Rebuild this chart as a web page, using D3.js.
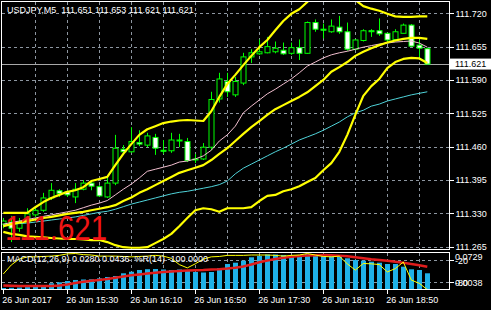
<!DOCTYPE html>
<meta charset="utf-8">
<style>
body { margin: 0; background: #000; }
svg { display: block; font-family: "Liberation Sans", Arial, sans-serif; }
.grid line { stroke: #8d96a0; stroke-dasharray: 3,3; shape-rendering: crispEdges; }
.frame { fill: none; stroke: #fff; stroke-width: 1; shape-rendering: crispEdges; }
.axis path { display: none; }
.axis line { stroke: #fff; shape-rendering: crispEdges; }
.axis text { fill: #fff; font-size: 9px; font-family: "Liberation Sans", Arial, sans-serif; }
.lbl { fill: #fff; font-size: 9px; white-space: pre; }
</style>
<body>
<script src="https://d3js.org/d3.v7.min.js"></script>
<script>

// USDJPY M5 candles, 14:50 .. 19:15
var open  = [111.309,111.313,111.301,111.313,111.327,111.336,111.360,111.374,111.372,111.362,111.377,111.389,111.382,111.362,111.389,111.455,111.450,111.468,111.463,111.478,111.453,111.452,111.473,111.470,111.436,111.436,111.459,111.553,111.587,111.561,111.584,111.635,111.641,111.643,111.645,111.648,111.642,111.653,111.642,111.702,111.689,111.684,111.693,111.684,111.650,111.667,111.686,111.686,111.681,111.669,111.681,111.697,111.658,111.651];
var high  = [111.321,111.325,111.321,111.340,111.342,111.370,111.389,111.377,111.375,111.389,111.395,111.391,111.385,111.399,111.483,111.463,111.498,111.492,111.487,111.485,111.473,111.487,111.485,111.477,111.446,111.467,111.567,111.604,111.604,111.596,111.643,111.650,111.669,111.674,111.665,111.663,111.663,111.669,111.704,111.708,111.700,111.708,111.715,111.702,111.669,111.689,111.689,111.710,111.682,111.689,111.700,111.699,111.668,111.653];
var low   = [111.301,111.274,111.294,111.307,111.323,111.333,111.356,111.362,111.362,111.350,111.375,111.375,111.362,111.360,111.385,111.448,111.448,111.461,111.459,111.444,111.446,111.448,111.459,111.430,111.428,111.434,111.453,111.546,111.557,111.557,111.580,111.623,111.639,111.642,111.642,111.639,111.639,111.629,111.641,111.684,111.671,111.682,111.680,111.647,111.648,111.665,111.674,111.676,111.662,111.665,111.681,111.655,111.635,111.621];
var close = [111.315,111.301,111.313,111.329,111.336,111.360,111.375,111.369,111.366,111.377,111.389,111.383,111.364,111.389,111.457,111.450,111.470,111.465,111.481,111.457,111.452,111.473,111.472,111.433,111.435,111.459,111.552,111.592,111.567,111.587,111.635,111.643,111.645,111.655,111.652,111.641,111.653,111.642,111.702,111.689,111.688,111.695,111.684,111.650,111.668,111.686,111.685,111.680,111.668,111.684,111.697,111.656,111.652,111.621];

// indicator lines on the price chart
var bbUpper  = [111.331,111.331,111.331,111.331,111.342,111.352,111.360,111.366,111.372,111.375,111.381,111.393,111.397,111.401,111.424,111.446,111.465,111.483,111.494,111.500,111.506,111.509,111.511,111.512,111.511,111.510,111.529,111.557,111.582,111.600,111.619,111.637,111.654,111.668,111.687,111.705,111.719,111.728,111.742,111.762,111.773,111.777,111.773,111.762,111.746,111.734,111.729,111.725,111.719,111.714,111.713,111.713,111.714,111.714];
var bbMiddle = [111.305,111.309,111.312,111.315,111.318,111.321,111.323,111.326,111.329,111.331,111.333,111.336,111.339,111.342,111.346,111.354,111.361,111.370,111.377,111.385,111.393,111.401,111.409,111.414,111.419,111.424,111.434,111.446,111.457,111.471,111.485,111.498,111.510,111.522,111.533,111.541,111.549,111.557,111.566,111.578,111.590,111.606,111.615,111.625,111.637,111.645,111.652,111.658,111.663,111.667,111.670,111.672,111.672,111.670];
var bbLower  = [111.294,111.290,111.288,111.285,111.284,111.283,111.282,111.281,111.280,111.280,111.279,111.278,111.278,111.274,111.268,111.264,111.263,111.263,111.264,111.272,111.280,111.290,111.305,111.321,111.336,111.340,111.338,111.333,111.340,111.340,111.340,111.342,111.354,111.364,111.366,111.373,111.377,111.383,111.391,111.399,111.414,111.428,111.450,111.483,111.522,111.559,111.578,111.592,111.613,111.625,111.631,111.633,111.632,111.623];
var maPink   = [111.309,111.312,111.315,111.318,111.321,111.324,111.327,111.330,111.333,111.336,111.341,111.346,111.350,111.355,111.366,111.377,111.387,111.399,111.412,111.416,111.420,111.424,111.430,111.432,111.436,111.442,111.453,111.471,111.483,111.500,111.526,111.539,111.551,111.563,111.572,111.582,111.592,111.604,111.617,111.625,111.633,111.639,111.643,111.646,111.650,111.654,111.657,111.660,111.662,111.664,111.665,111.666,111.662,111.654];
var maCyan   = [111.307,111.309,111.310,111.311,111.313,111.315,111.317,111.319,111.321,111.323,111.326,111.329,111.332,111.334,111.338,111.343,111.348,111.352,111.356,111.360,111.364,111.368,111.371,111.373,111.376,111.379,111.382,111.386,111.393,111.407,111.418,111.426,111.434,111.442,111.450,111.457,111.465,111.473,111.479,111.485,111.492,111.500,111.508,111.518,111.526,111.531,111.539,111.543,111.549,111.553,111.557,111.561,111.564,111.567];

// sub window: MACD(12,26,9) and %R(14)
var macdMain   = [0.0038,0.0042,0.0048,0.0056,0.0066,0.0099,0.0134,0.0154,0.0180,0.0201,0.0211,0.0215,0.0235,0.0262,0.0282,0.0337,0.0369,0.0404,0.0420,0.0424,0.0414,0.0404,0.0414,0.0404,0.0363,0.0353,0.0363,0.0438,0.0526,0.0552,0.0593,0.0662,0.0688,0.0719,0.0719,0.0709,0.0688,0.0709,0.0729,0.0719,0.0709,0.0709,0.0703,0.0642,0.0607,0.0593,0.0573,0.0552,0.0526,0.0526,0.0471,0.0418,0.0404,0.0337];
var macdSignal = [0.0089,0.0085,0.0079,0.0079,0.0079,0.0079,0.0079,0.0089,0.0109,0.0140,0.0166,0.0184,0.0201,0.0221,0.0247,0.0272,0.0296,0.0314,0.0331,0.0347,0.0363,0.0373,0.0384,0.0392,0.0400,0.0404,0.0412,0.0420,0.0432,0.0449,0.0475,0.0516,0.0560,0.0597,0.0627,0.0652,0.0672,0.0688,0.0699,0.0705,0.0709,0.0705,0.0696,0.0682,0.0664,0.0644,0.0623,0.0607,0.0591,0.0571,0.0550,0.0526,0.0499,0.0471];
var williamsR  = [-57.6,-33,-17,-11,-11,-10,-9,-7,-3,-2,-5,-6,-9,-9,-9,-10,-11,-10,-9,-7,-9,-15,-32,-41,-30,-17,-11,-10,-7,-7,-7,-6,-6,-6,-7,-9,-7,-6,-2,-6,-10,-11,-9,-30,-47,-29,-30,-32,-52,-43,-25,-74,-83,-100];

// axes
var priceTicks = [111.720, 111.655, 111.590, 111.525, 111.460, 111.395, 111.330, 111.265];
var timeTickBars = [0, 8, 16, 24, 32, 40, 48];
var timeLabels = ["26 Jun 2017", "26 Jun 15:30", "26 Jun 16:10", "26 Jun 16:50", "26 Jun 17:30", "26 Jun 18:10", "26 Jun 18:50"];
var lastPrice = 111.621;

var W = 491, H = 310;
var main = {left: 1.5, right: 449.5, top: 1.5, bottom: 249.5};
var sub = {top: 252.5, bottom: 289.5};

var x = d3.scaleLinear().domain([0, 53]).range([3.3, 427.3]);
var y = d3.scaleLinear().domain([111.265, 111.720]).range([246.7, 13.3]);
var ym = d3.scaleLinear().domain([0.0038, 0.0729]).range([288, 254]);
var yr = d3.scaleLinear().domain([-100, 0]).range([289.6, 252.8]);

var svg = d3.select("body").append("svg")
    .attr("width", W)
    .attr("height", H);

svg.append("rect").attr("width", W).attr("height", H).attr("fill", "#000");

var defs = svg.append("defs");
defs.append("clipPath").attr("id", "clipMain")
  .append("rect")
    .attr("x", main.left + 0.5).attr("y", main.top + 0.5)
    .attr("width", main.right - main.left - 1).attr("height", main.bottom - main.top - 1);
defs.append("clipPath").attr("id", "clipSub")
  .append("rect")
    .attr("x", main.left + 0.5).attr("y", sub.top + 0.5)
    .attr("width", main.right - main.left - 1).attr("height", sub.bottom - sub.top - 1);

// grid: vertical every 4 bars, both windows
var gridBars = d3.range(4, 54, 4);
var grid = svg.append("g").attr("class", "grid");
grid.selectAll(".vm").data(gridBars).enter().append("line")
    .attr("x1", function(d) { return Math.round(x(d)) + 0.5; })
    .attr("x2", function(d) { return Math.round(x(d)) + 0.5; })
    .attr("y1", main.top).attr("y2", main.bottom);
grid.selectAll(".vs").data(gridBars).enter().append("line")
    .attr("x1", function(d) { return Math.round(x(d)) + 0.5; })
    .attr("x2", function(d) { return Math.round(x(d)) + 0.5; })
    .attr("y1", sub.top).attr("y2", sub.bottom);
grid.selectAll(".h").data(priceTicks).enter().append("line")
    .attr("x1", main.left).attr("x2", main.right)
    .attr("y1", function(d) { return Math.round(y(d)) + 0.5; })
    .attr("y2", function(d) { return Math.round(y(d)) + 0.5; });
grid.selectAll(".hr").data([-20, -80]).enter().append("line")
    .attr("x1", main.left).attr("x2", main.right)
    .attr("y1", function(d) { return Math.round(yr(d)) + 0.5; })
    .attr("y2", function(d) { return Math.round(yr(d)) + 0.5; });

// main window
var gm = svg.append("g").attr("clip-path", "url(#clipMain)");

gm.append("line")
    .attr("x1", main.left).attr("x2", main.right)
    .attr("y1", Math.round(y(lastPrice)) + 0.5).attr("y2", Math.round(y(lastPrice)) + 0.5)
    .attr("stroke", "#a8a8a8");

var bars = d3.range(open.length);

var candle = gm.selectAll(".candle").data(bars).enter().append("g");
candle.append("line")
    .attr("x1", function(i) { return Math.round(x(i)) + 0.5; })
    .attr("x2", function(i) { return Math.round(x(i)) + 0.5; })
    .attr("y1", function(i) { return y(high[i]); })
    .attr("y2", function(i) { return y(low[i]); })
    .attr("stroke", "#00ff00");
candle.append("rect")
    .attr("x", function(i) { return Math.round(x(i)) - 2; })
    .attr("width", 5)
    .attr("y", function(i) { return y(Math.max(open[i], close[i])); })
    .attr("height", function(i) { return Math.max(1, Math.abs(y(open[i]) - y(close[i]))); })
    .attr("fill", function(i) {
      if (close[i] > open[i]) return "#000";
      if (close[i] < open[i]) return "#fff";
      return "#00ff00";
    })
    .attr("stroke", "#00ff00")
    .attr("stroke-width", 1);

var line = d3.line()
    .x(function(d, i) { return x(i); })
    .y(function(d) { return y(d); });

gm.append("path").datum(maCyan).attr("d", line)
    .attr("fill", "none").attr("stroke", "#4fd3d9").attr("stroke-width", 1);
gm.append("path").datum(maPink).attr("d", line)
    .attr("fill", "none").attr("stroke", "#f2bfcf").attr("stroke-width", 1);
[bbUpper, bbMiddle, bbLower].forEach(function(s) {
  gm.append("path").datum(s).attr("d", line)
      .attr("fill", "none").attr("stroke", "#ffff00").attr("stroke-width", 2.2)
      .attr("stroke-linejoin", "round");
});

// big price text
svg.append("text")
    .attr("x", 5).attr("y", 240)
    .attr("fill", "#f01414")
    .attr("font-size", "35px")
    .attr("textLength", 102)
    .attr("lengthAdjust", "spacingAndGlyphs")
    .text("111.621");

svg.append("text").attr("class", "lbl")
    .attr("x", 7).attr("y", 12.5)
    .text("USDJPY,M5  111.651 111.653 111.621 111.621");

// sub window
var gs = svg.append("g").attr("clip-path", "url(#clipSub)");
gs.selectAll(".hist").data(bars).enter().append("rect")
    .attr("x", function(i) { return Math.round(x(i)) - 2; })
    .attr("width", 5)
    .attr("y", function(i) { return ym(macdMain[i]); })
    .attr("height", function(i) { return ym(0) - ym(macdMain[i]); })
    .attr("fill", "#1fb1e8");

gs.append("path").datum(macdSignal)
    .attr("d", d3.line().x(function(d, i) { return x(i); }).y(function(d) { return ym(d); }))
    .attr("fill", "none").attr("stroke", "#e01c1c").attr("stroke-width", 2.5);

gs.append("path").datum(williamsR)
    .attr("d", d3.line().x(function(d, i) { return x(i); }).y(function(d) { return yr(d); }))
    .attr("fill", "none").attr("stroke", "#ffff00").attr("stroke-width", 1);

svg.append("text").attr("class", "lbl")
    .attr("x", 7).attr("y", 262)
    .text("MACD(12,26,9) 0.0280 0.0436  %R(14) -100.0000");

// frames
svg.append("rect").attr("class", "frame")
    .attr("x", main.left).attr("y", main.top)
    .attr("width", main.right - main.left).attr("height", main.bottom - main.top);
svg.append("rect").attr("class", "frame")
    .attr("x", main.left).attr("y", sub.top)
    .attr("width", main.right - main.left).attr("height", sub.bottom - sub.top);

// price axis
svg.append("g")
    .attr("class", "axis")
    .attr("transform", "translate(" + main.right + ",0)")
    .call(d3.axisRight(y).tickValues(priceTicks).tickSize(4).tickPadding(2)
      .tickFormat(d3.format(".3f")));

// last price tag
svg.append("rect")
    .attr("x", main.right + 0.5).attr("y", y(lastPrice) - 5.5)
    .attr("width", W - main.right).attr("height", 11)
    .attr("fill", "#fff");
svg.append("text")
    .attr("x", 455).attr("y", y(lastPrice) + 3.3)
    .attr("font-size", "9px").attr("fill", "#000")
    .text(d3.format(".3f")(lastPrice));

// sub window scale labels (MACD max/min, %R levels overlap like in the terminal)
var subAxis = svg.append("g").attr("class", "axis");
[yr(-20), yr(-80)].forEach(function(v) {
  subAxis.append("line")
      .attr("x1", main.right).attr("x2", main.right + 4)
      .attr("y1", Math.round(v) + 0.5).attr("y2", Math.round(v) + 0.5);
});
subAxis.append("text").attr("x", 455).attr("y", 260).text(d3.format(".4f")(0.0729));
subAxis.append("text").attr("x", 455).attr("y", 263.5).text("-20");
subAxis.append("text").attr("x", 455).attr("y", 286).text(d3.format(".4f")(0.0038));
subAxis.append("text").attr("x", 455).attr("y", 285.5).text("-80");

// time axis
var tx = svg.append("g")
    .attr("class", "axis")
    .attr("transform", "translate(0," + sub.bottom + ")")
    .call(d3.axisBottom(x).tickValues(timeTickBars).tickSize(4).tickPadding(3)
      .tickFormat(function(d, i) { return timeLabels[i]; }));
tx.selectAll("text").attr("text-anchor", "start").attr("dx", "-1.5");

</script>
</body>
